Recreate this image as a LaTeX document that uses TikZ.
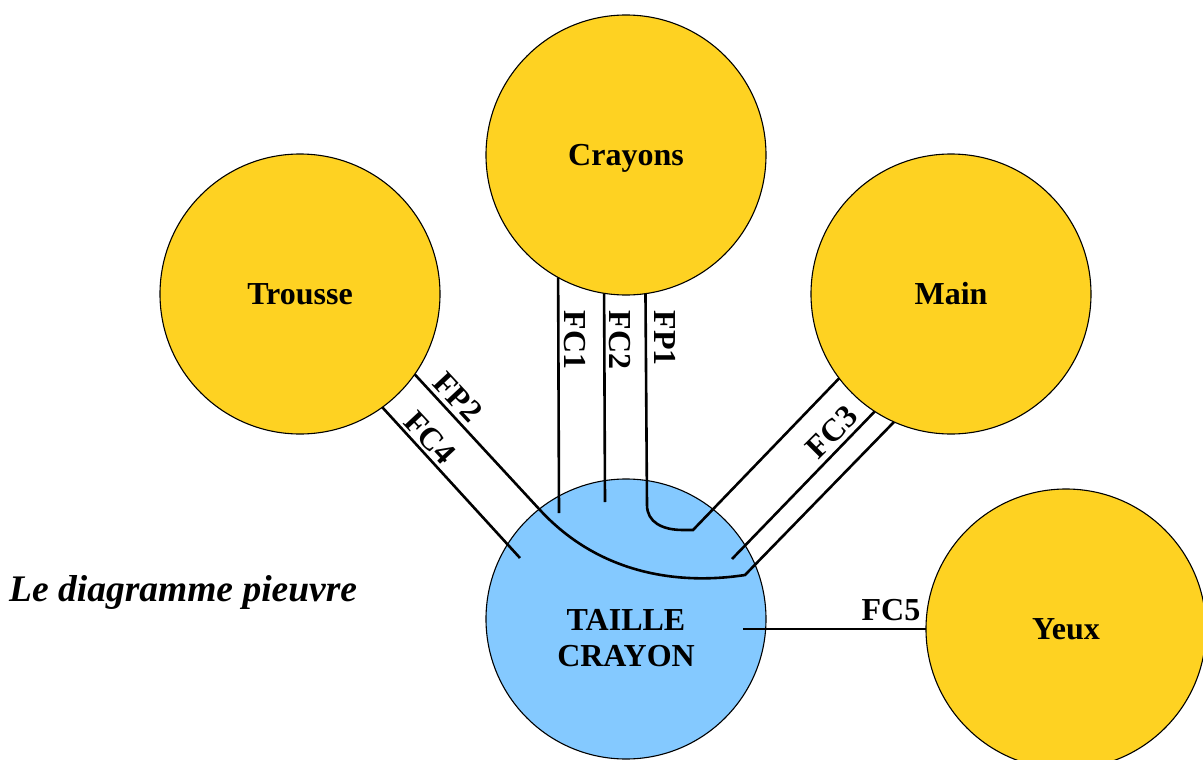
\documentclass[tikz,border=0pt]{standalone}
\usepackage{fontspec}
\setmainfont{Liberation Serif}
\definecolor{sun}{RGB}{254,210,34}
\definecolor{sky}{RGB}{132,201,255}
\tikzset{
  ball/.style={circle, draw=black, line width=1.1pt, minimum size=280pt, inner sep=0pt, outer sep=0pt, font=\fontsize{32}{36}\selectfont\bfseries, text height=21pt, text depth=0pt},
  outer/.style={ball, fill=sun},
  core/.style={ball, fill=sky},
  link/.style={line width=2.6pt, line cap=butt},
  tag/.style={font=\fontsize{32}{36}\selectfont\bfseries, inner sep=0pt},
}
\begin{document}
\begin{tikzpicture}[x=1pt,y=-1pt]
\useasboundingbox (0,0) rectangle (1203,760);
\node[outer] (crayons) at (626,155) {Crayons};
\node[outer] (trousse) at (300,294) {Trousse};
\node[outer] (main) at (951,294) {Main};
\node[outer] (yeux) at (1066,629) {Yeux};
\node[core] (taille) at (626,619) {};
\node[tag, align=center] (tailletext) at (626,638) {TAILLE\\CRAYON};
\node[font=\fontsize{37.5}{42}\selectfont\bfseries\itshape, anchor=west, inner sep=0pt] (title) at (9,592) {Le diagramme pieuvre};

\coordinate (fc1end) at (559,513);
\coordinate (fc2end) at (605,502);
\coordinate (fc3end) at (732,559);
\coordinate (fc4end) at (520,558);
\coordinate (fc5start) at (743,629);

\draw[link] (crayons.241.4) -- (fc1end);
\draw[link] (crayons.261.4) -- (fc2end);
\draw[link] (crayons.278.6) -- (647,505) .. controls (647,522) and (662,530) .. (683,530) -- (693,530) -- (main.217.8);
\draw[link] (main.237.2) -- (fc3end);
\draw[link] (trousse.-35.2) -- (540,510) .. controls (600,575) and (680,585) .. (745,575) -- (main.246.5);
\draw[link] (trousse.-54.7) -- (fc4end);
\draw[link] (fc5start) -- (yeux.west);

\node[tag, rotate=-90] (lfc1) at (575,340) {FC1};
\node[tag, rotate=-90] (lfc2) at (620,340) {FC2};
\node[tag, rotate=-90] (lfp1) at (665,338) {FP1};
\node[tag, rotate=-47] (lfp2) at (458,397) {FP2};
\node[tag, rotate=-47] (lfc4) at (430,438) {FC4};
\node[tag, rotate=45] (lfc3) at (832,432) {FC3};
\node[tag] (lfc5) at (891,610) {FC5};
\end{tikzpicture}
\end{document}
